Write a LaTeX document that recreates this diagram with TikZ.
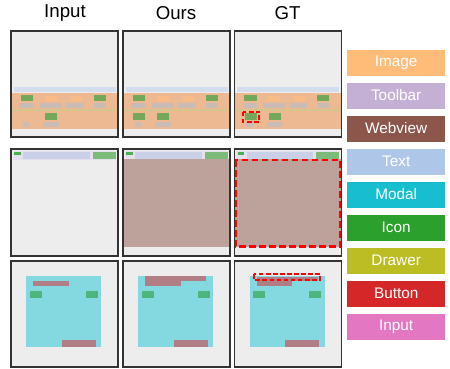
\documentclass[tikz,border=0pt]{standalone}
\usepackage{fontspec}
\setmainfont{Liberation Sans}
\definecolor{panelbg}{HTML}{EDEDED}
\definecolor{bluebar}{HTML}{D2DEEE}
\definecolor{orangebg}{HTML}{EDB993}
\definecolor{drawline}{HTML}{D6C58A}
\definecolor{greenbox}{HTML}{73A85B}
\definecolor{lorange}{HTML}{F8BC89}
\definecolor{graybox}{HTML}{C8BCB5}
\definecolor{lavband}{HTML}{E4E0EE}
\definecolor{textbar}{HTML}{C9D0E8}
\definecolor{smallgreen}{HTML}{4CAF50}
\definecolor{rgreen}{HTML}{7DBB7A}
\definecolor{brownbg}{HTML}{BCA29A}
\definecolor{cyanbg}{HTML}{84D8E0}
\definecolor{btnbar}{HTML}{B07E84}
\definecolor{mgreen}{HTML}{4DB57E}
\definecolor{cImage}{HTML}{FFBB78}
\definecolor{cToolbar}{HTML}{C5B0D5}
\definecolor{cWebview}{HTML}{8C564B}
\definecolor{cText}{HTML}{AEC7E8}
\definecolor{cModal}{HTML}{17BECF}
\definecolor{cIcon}{HTML}{2CA02C}
\definecolor{cDrawer}{HTML}{BCBD22}
\definecolor{cButton}{HTML}{D62728}
\definecolor{cInput}{HTML}{E377C2}
\begin{document}
\begin{tikzpicture}[x=0.75pt,y=-0.75pt,
  panelborder/.style={draw=black!80,line width=0.8pt},
  reddash/.style={draw=red,line width=1.8pt,dash pattern=on 5pt off 2.5pt},
  reddashs/.style={draw=red,line width=1.6pt,dash pattern=on 3.5pt off 1.8pt},
  legbox/.style={minimum width=73.3pt,minimum height=19.5pt,inner sep=0pt,text=white,font=\fontsize{11.5}{12}\selectfont},
  header/.style={font=\fontsize{14}{15}\selectfont}]
\useasboundingbox (0,0) rectangle (450,368);

% headers
\node[header] (hin) at (65,13.5) {Input};
\node[header] (hours) at (176,13.5) {Ours};
\node[header] (hgt) at (287.5,13.5) {GT};

% ===== Row 1 =====
\foreach \dx in {0,112,223.3}{
\begin{scope}[shift={(\dx,0)}]
  \fill[panelbg] (11,31) rectangle (118,137);
  \fill[bluebar] (14,87) rectangle (116,92);
  \fill[orangebg] (11,93) rectangle (118,128.5);
  \fill[drawline] (11,109.3) rectangle (118,110.7);
  \fill[greenbox] (21,95.3) rectangle (33.3,101.3);
  \fill[greenbox] (94,95.3) rectangle (106,101.3);
  \fill[lorange] (45,95.5) rectangle (56.7,101.3);
  \fill[lorange] (70.7,95.5) rectangle (82,101.3);
  \fill[graybox] (19.3,103.3) rectangle (33.3,108);
  \fill[graybox] (40,103.3) rectangle (62,108);
  \fill[graybox] (65.3,103.3) rectangle (84,108);
  \fill[graybox] (94.3,103.3) rectangle (106,108);
\end{scope}}
% input row1 second line
\fill[greenbox] (45,113.3) rectangle (56.7,120);
\fill[graybox] (22.7,121.7) rectangle (29.3,126.7);
\fill[graybox] (43.3,121.7) rectangle (58.7,126.7);
% ours row1 second line
\begin{scope}[shift={(112,0)}]
  \fill[greenbox] (21.3,113.3) rectangle (33.3,120);
  \fill[greenbox] (45,113.3) rectangle (57,120);
  \fill[graybox] (23,121.7) rectangle (29.3,126.7);
  \fill[graybox] (43.3,121.7) rectangle (58.7,126.7);
\end{scope}
% gt row1 second line
\begin{scope}[shift={(223.3,0)}]
  \fill[greenbox] (21.4,113.3) rectangle (33.4,120);
  \fill[greenbox] (45.7,113.3) rectangle (57.4,120);
  \fill[graybox] (23,121.7) rectangle (30,126.7);
  \fill[graybox] (44,121.7) rectangle (58.4,126.7);
  \draw[reddashs] (19.4,111.7) rectangle (36,121.7);
\end{scope}
\foreach \dx in {0,112,223.3}{
  \draw[panelborder,shift={(\dx,0)}] (11,31) rectangle (118,137);}

% ===== Row 2 =====
\foreach \dx in {0,112,223.3}{
\begin{scope}[shift={(\dx,0)}]
  \fill[panelbg] (11,149) rectangle (118,256);
  \fill[lavband] (13,151) rectangle (116,159.5);
  \fill[smallgreen] (14.3,152.3) rectangle (21,155.3);
  \fill[textbar] (23.3,152.3) rectangle (90,159);
  \fill[rgreen] (92.7,152.3) rectangle (116,159);
\end{scope}}
\fill[brownbg] (123,159) rectangle (230,247.3);
\fill[brownbg] (234.3,159) rectangle (341.7,247.3);
\draw[reddash] (235.4,160) rectangle (340.6,246.3);
\foreach \dx in {0,112,223.3}{
  \draw[panelborder,shift={(\dx,0)}] (11,149) rectangle (118,256);}

% ===== Row 3 =====
\foreach \dx in {0,112,223.3}{
\begin{scope}[shift={(\dx,0)}]
  \fill[panelbg] (11,261) rectangle (118,367);
  \fill[cyanbg] (26.3,275.7) rectangle (101.2,346.7);
  \fill[mgreen] (29.9,291.3) rectangle (41.9,297.7);
  \fill[mgreen] (85.7,291.3) rectangle (97.6,297.7);
  \fill[btnbar] (62,339.7) rectangle (96,346.7);
\end{scope}}
\fill[btnbar] (33,281) rectangle (69,285.7);
\begin{scope}[shift={(112,0)}]
  \fill[btnbar] (33,276) rectangle (94,281);
  \fill[btnbar] (33,281) rectangle (69,286);
\end{scope}
\begin{scope}[shift={(223.3,0)}]
  \fill[btnbar] (33.4,276.7) rectangle (95,280.5);
  \fill[btnbar] (33.4,280.5) rectangle (68.4,285.7);
  \draw[reddashs] (31,274) rectangle (96.7,280);
\end{scope}
\foreach \dx in {0,112,223.3}{
  \draw[panelborder,shift={(\dx,0)}] (11,261) rectangle (118,367);}

% ===== Legend =====
\node[legbox,fill=cImage]   (lImage)   at (396.2,62.5)  {Image};
\node[legbox,fill=cToolbar] (lToolbar) at (396.2,95.5)  {Toolbar};
\node[legbox,fill=cWebview] (lWebview) at (396.2,128.5) {Webview};
\node[legbox,fill=cText]    (lText)    at (396.2,161.5) {Text};
\node[legbox,fill=cModal]   (lModal)   at (396.2,194.5) {Modal};
\node[legbox,fill=cIcon]    (lIcon)    at (396.2,227.5) {Icon};
\node[legbox,fill=cDrawer]  (lDrawer)  at (396.2,260.5) {Drawer};
\node[legbox,fill=cButton]  (lButton)  at (396.2,293.5) {Button};
\node[legbox,fill=cInput]   (lInput)   at (396.2,326.5) {Input};
\end{tikzpicture}
\end{document}
